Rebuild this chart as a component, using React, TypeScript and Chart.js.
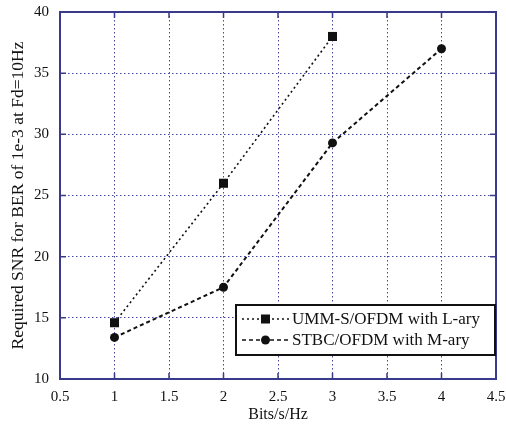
import React, { useEffect, useRef } from "react";
import { Chart, registerables } from "chart.js";

Chart.register(...registerables);

const xValuesL = [1, 2, 3];
const ummValues = [14.6, 26, 38];
const xValuesM = [1, 2, 3, 4];
const stbcValues = [13.4, 17.5, 29.3, 37];
const seriesNames = ["UMM-S/OFDM with L-ary", "STBC/OFDM with M-ary"];
const xTicks = [0.5, 1, 1.5, 2, 2.5, 3, 3.5, 4, 4.5];
const yTicks = [10, 15, 20, 25, 30, 35, 40];

const FONT = '"Liberation Serif", "Times New Roman", serif';
const NAVY = "rgb(58,58,140)";
const GRID = "rgb(70,70,155)";
const INK = "#111";

const frameAndLegend = {
  id: "frameAndLegend",
  afterDraw(chart: any) {
    const { ctx, chartArea: a, scales } = chart;
    ctx.save();
    // inner tick marks
    ctx.strokeStyle = NAVY;
    ctx.lineWidth = 1.5;
    ctx.setLineDash([]);
    ctx.beginPath();
    xTicks.forEach((v) => {
      const px = scales.x.getPixelForValue(v);
      ctx.moveTo(px, a.bottom);
      ctx.lineTo(px, a.bottom - 6);
      ctx.moveTo(px, a.top);
      ctx.lineTo(px, a.top + 6);
    });
    yTicks.forEach((v) => {
      const py = scales.y.getPixelForValue(v);
      ctx.moveTo(a.left, py);
      ctx.lineTo(a.left + 6, py);
      ctx.moveTo(a.right, py);
      ctx.lineTo(a.right - 6, py);
    });
    ctx.stroke();
    // frame
    ctx.lineWidth = 2;
    ctx.strokeRect(a.left, a.top, a.right - a.left, a.bottom - a.top);

    // legend
    const bx = 236, by = 305, bw = 259, bh = 50;
    ctx.fillStyle = "#fff";
    ctx.fillRect(bx, by, bw, bh);
    ctx.strokeStyle = INK;
    ctx.lineWidth = 2;
    ctx.strokeRect(bx, by, bw, bh);
    const rows = [
      { y: by + 14, dash: [2, 3], style: "rect" },
      { y: by + 35, dash: [4, 3], style: "circle" },
    ];
    rows.forEach((r, i) => {
      ctx.strokeStyle = INK;
      ctx.lineWidth = 1.6;
      ctx.setLineDash(r.dash);
      ctx.beginPath();
      ctx.moveTo(bx + 6, r.y);
      ctx.lineTo(bx + 54, r.y);
      ctx.stroke();
      ctx.setLineDash([]);
      ctx.fillStyle = INK;
      if (r.style === "rect") {
        ctx.fillRect(bx + 25, r.y - 4.5, 9, 9);
      } else {
        ctx.beginPath();
        ctx.arc(bx + 29.5, r.y, 4.5, 0, Math.PI * 2);
        ctx.fill();
      }
      ctx.font = `17px ${FONT}`;
      ctx.textBaseline = "middle";
      ctx.textAlign = "left";
      ctx.fillText(seriesNames[i], bx + 56, r.y + 1);
    });
    ctx.restore();
  },
};

export default function App() {
  const ref = useRef<HTMLCanvasElement | null>(null);
  useEffect(() => {
    if (!ref.current) return;
    const chart = new Chart(ref.current, {
      type: "line",
      data: {
        datasets: [
          {
            label: seriesNames[0],
            data: xValuesL.map((x, i) => ({ x, y: ummValues[i] })),
            borderColor: INK,
            backgroundColor: INK,
            borderWidth: 1.6,
            borderDash: [2, 3],
            pointStyle: "rect",
            pointRadius: 6.4,
            pointBorderWidth: 0,
            tension: 0,
          },
          {
            label: seriesNames[1],
            data: xValuesM.map((x, i) => ({ x, y: stbcValues[i] })),
            borderColor: INK,
            backgroundColor: INK,
            borderWidth: 2,
            borderDash: [4, 3],
            pointStyle: "circle",
            pointRadius: 4.5,
            pointBorderWidth: 0,
            tension: 0,
          },
        ],
      },
      options: {
        animation: false,
        responsive: true,
        maintainAspectRatio: false,
        layout: { padding: { top: 12, right: 10, left: 0, bottom: 0 } },
        plugins: { legend: { display: false }, tooltip: { enabled: false } },
        scales: {
          x: {
            type: "linear",
            min: 0.5,
            max: 4.5,
            afterBuildTicks: (s: any) => {
              s.ticks = xTicks.map((v) => ({ value: v }));
            },
            ticks: {
              color: INK,
              font: { family: FONT, size: 15 },
              padding: 9,
              maxRotation: 0,
              autoSkip: false,
              callback: (v: any) => String(v),
            },
            grid: { color: GRID, lineWidth: 1, drawTicks: false },
            border: { display: false, dash: [1.5, 2.5] },
            title: {
              display: true,
              text: "Bits/s/Hz",
              color: INK,
              font: { family: FONT, size: 16 },
              padding: { top: 0, bottom: 9 },
            },
            afterFit: (s: any) => {
              s.height = 54;
              s.paddingLeft = 0;
              s.paddingRight = 0;
            },
          },
          y: {
            type: "linear",
            min: 10,
            max: 40,
            afterBuildTicks: (s: any) => {
              s.ticks = yTicks.map((v) => ({ value: v }));
            },
            ticks: {
              color: INK,
              font: { family: FONT, size: 15 },
              padding: 11,
              autoSkip: false,
              callback: (v: any) => String(v),
            },
            grid: { color: GRID, lineWidth: 1, drawTicks: false },
            border: { display: false, dash: [1.5, 2.5] },
            title: {
              display: true,
              text: "Required SNR for BER of 1e-3 at Fd=10Hz",
              color: INK,
              font: { family: FONT, size: 17.5 },
              padding: { top: 8, bottom: 0 },
            },
            afterFit: (s: any) => {
              s.width = 60;
              s.paddingTop = 0;
              s.paddingBottom = 0;
            },
          },
        },
      },
      plugins: [frameAndLegend],
    });
    return () => chart.destroy();
  }, []);
  return (
    <div style={{ position: "absolute", left: 0, top: 0, width: 506, height: 433, background: "#fff" }}>
      <canvas ref={ref} />
    </div>
  );
}
